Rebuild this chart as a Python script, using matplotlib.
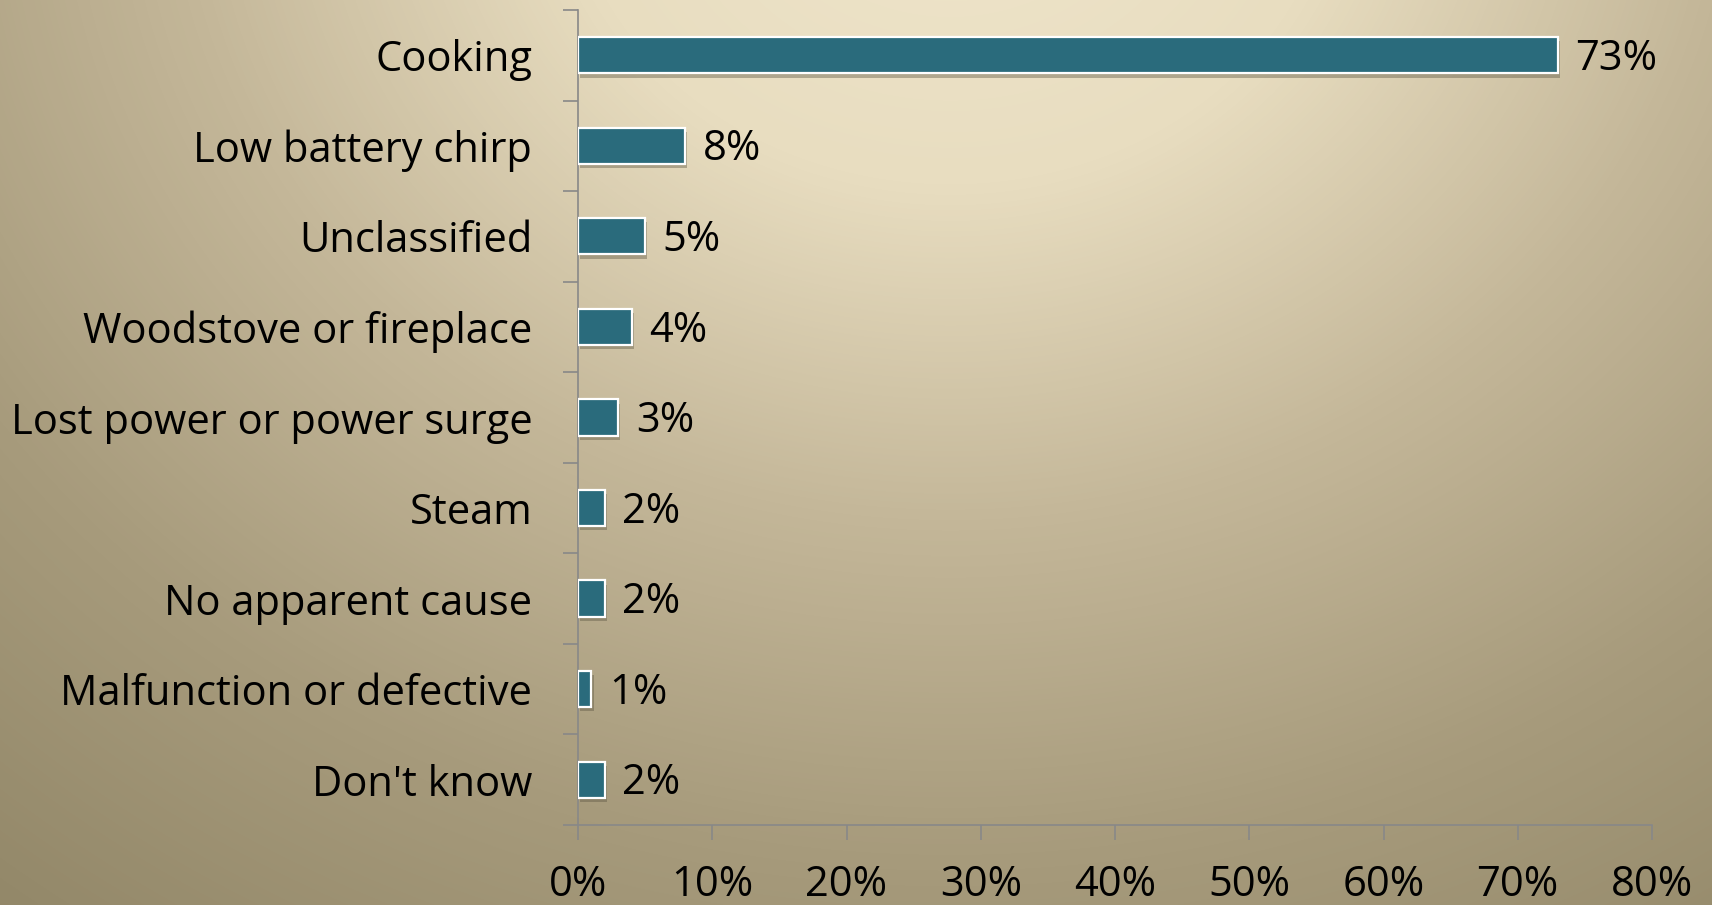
import numpy as np
import matplotlib
matplotlib.use("Agg")
import matplotlib.pyplot as plt
from matplotlib.colors import LinearSegmentedColormap
from matplotlib import patheffects as pe

categories = ["Cooking", "Low battery chirp", "Unclassified", "Woodstove or fireplace",
              "Lost power or power surge", "Steam", "No apparent cause",
              "Malfunction or defective", "Don't know"]
values = [73, 8, 5, 4, 3, 2, 2, 1, 2]
xticks = [0, 10, 20, 30, 40, 50, 60, 70, 80]

plt.rcParams['font.family'] = ['Open Sans', 'DejaVu Sans']

W, H = 1712, 905
fig = plt.figure(figsize=(W/100, H/100), dpi=100)

# background radial gradient
bg = fig.add_axes([0, 0, 1, 1], zorder=-10)
yy, xx = np.mgrid[0:H, 0:W]
cx, cy = 950, -150
d = np.sqrt(((xx - cx) / 1.15) ** 2 + (yy - cy) ** 2)
d = d / d.max()
cmap = LinearSegmentedColormap.from_list("bg", ["#f0e6cc", "#e8ddc0", "#c4b799", "#a79b7c", "#938869"])
bg.imshow(d, cmap=cmap, aspect='auto', extent=[0, W, H, 0], vmin=0, vmax=1)
bg.axis('off')

ax = fig.add_axes([578/W, 1 - 825/H, (1652-578)/W, (825-10)/H])
ax.patch.set_alpha(0)
n = len(categories)
ypos = np.arange(n)
bars = ax.barh(ypos, values, height=0.4, color="#2a6b7c", edgecolor="white", linewidth=1.6, zorder=3)
for b in bars:
    b.set_path_effects([pe.SimplePatchShadow(offset=(1.5, -3), shadow_rgbFace="#5a5440", alpha=0.4), pe.Normal()])

for y, v in zip(ypos, values):
    ax.text(v + 1.3, y + 0.04, f"{v}%", va='center', ha='left', fontsize=30, color='black')

ax.set_xlim(0, 80)
ax.set_ylim(n - 0.5, -0.5)
ax.set_xticks(xticks)
ax.set_xticklabels([f"{t}%" for t in xticks], fontsize=30)
ax.set_yticks(ypos)
ax.set_yticklabels(categories, fontsize=30)
ax.set_yticks(np.arange(-0.5, n, 1), minor=True)

for s in ['top', 'right']:
    ax.spines[s].set_visible(False)
for s in ['left', 'bottom']:
    ax.spines[s].set_color('#888888')
    ax.spines[s].set_linewidth(1.2)

ax.tick_params(axis='y', which='major', length=0, pad=33)
ax.tick_params(axis='y', which='minor', length=11, width=1.2, color='#888888')
ax.tick_params(axis='x', which='major', length=11, width=1.2, color='#888888', pad=17)

fig.savefig("out.png", dpi=100)
